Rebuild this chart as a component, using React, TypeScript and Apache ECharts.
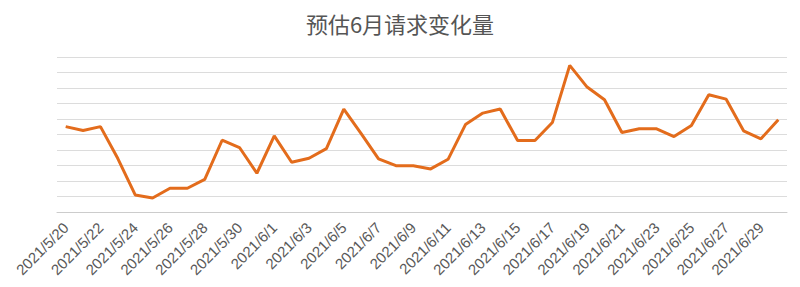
import React, { useEffect, useRef } from "react";
import * as echarts from "echarts";

const categories: string[] = [
  "2021/5/20", "2021/5/21", "2021/5/22", "2021/5/23", "2021/5/24", "2021/5/25", "2021/5/26",
  "2021/5/27", "2021/5/28", "2021/5/29", "2021/5/30", "2021/5/31", "2021/6/1", "2021/6/2",
  "2021/6/3", "2021/6/4", "2021/6/5", "2021/6/6", "2021/6/7", "2021/6/8", "2021/6/9",
  "2021/6/10", "2021/6/11", "2021/6/12", "2021/6/13", "2021/6/14", "2021/6/15", "2021/6/16",
  "2021/6/17", "2021/6/18", "2021/6/19", "2021/6/20", "2021/6/21", "2021/6/22", "2021/6/23",
  "2021/6/24", "2021/6/25", "2021/6/26", "2021/6/27", "2021/6/28", "2021/6/29", "2021/6/30",
];

const values: number[] = [
  5.51, 5.26, 5.51, 3.45, 1.1, 0.9, 1.53, 1.53, 2.11, 4.63, 4.16, 2.5, 4.91, 3.21,
  3.47, 4.09, 6.64, 5.05, 3.43, 2.99, 2.99, 2.78, 3.4, 5.64, 6.38, 6.64, 4.61, 4.61,
  5.77, 9.46, 8.06, 7.24, 5.13, 5.37, 5.37, 4.87, 5.58, 7.56, 7.28, 5.24, 4.72, 5.95,
];

const titleText = "预估6月请求变化量";

export default function App() {
  const ref = useRef<HTMLDivElement>(null);
  useEffect(() => {
    if (!ref.current) return;
    const chart = echarts.init(ref.current, undefined, { renderer: "svg" });
    chart.setOption({
      animation: false,
      title: {
        text: titleText,
        left: "center",
        top: 7,
        textStyle: {
          fontSize: 22,
          fontWeight: "normal",
          color: "#555555",
          fontFamily: "Noto Sans CJK SC",
        },
      },
      grid: { left: 57, right: 13, top: 57, bottom: 75, containLabel: false },
      xAxis: {
        type: "category",
        data: categories,
        boundaryGap: true,
        axisLine: { lineStyle: { color: "#cccccc", width: 1 } },
        axisTick: { interval: 1, length: 5, lineStyle: { color: "#cccccc" } },
        axisLabel: {
          interval: 1,
          rotate: 45,
          margin: 13,
          fontSize: 15,
          color: "#595959",
          fontFamily: "Liberation Sans, Arial, sans-serif",
        },
      },
      yAxis: {
        type: "value",
        min: 0,
        max: 10,
        interval: 1,
        axisLabel: { show: false },
        axisLine: { show: false },
        axisTick: { show: false },
        splitLine: { lineStyle: { color: "#dcdcdc", width: 1 } },
      },
      series: [
        {
          type: "line",
          data: values,
          showSymbol: false,
          symbol: "none",
          lineStyle: { color: "#E36C1C", width: 3 },
          itemStyle: { color: "#E36C1C" },
        },
      ],
    });
    return () => chart.dispose();
  }, []);
  return <div ref={ref} style={{ width: 800, height: 287, margin: -8 }} />;
}
